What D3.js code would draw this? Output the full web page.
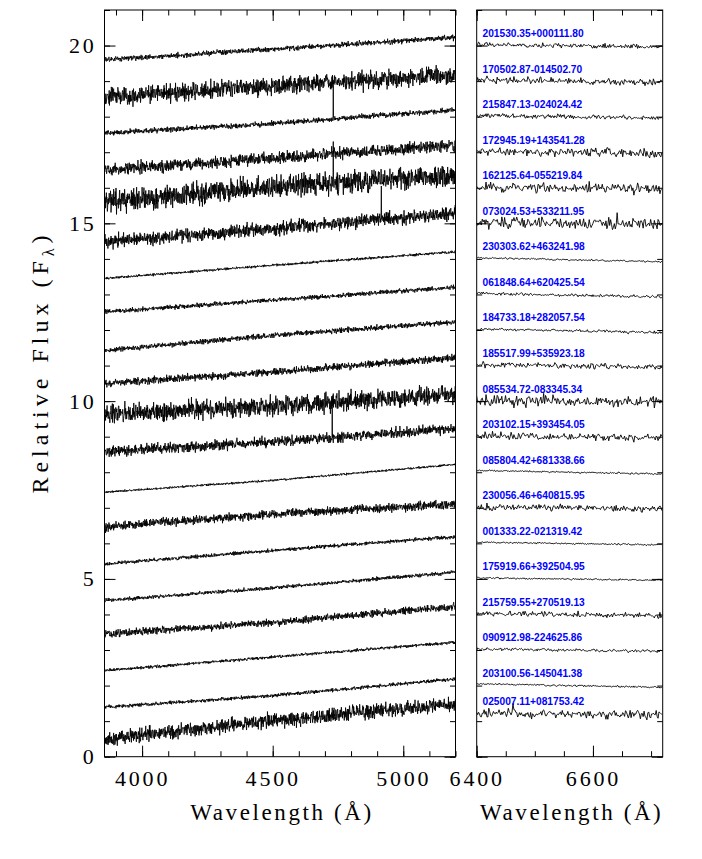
<!DOCTYPE html>
<html>
<head>
<meta charset="utf-8">
<script src="https://cdn.jsdelivr.net/npm/d3@7/dist/d3.min.js"></script>
<style>
  body { margin: 0; background: #fff; }
  svg { display: block; }
</style>
</head>
<body>
<svg id="chart" width="702" height="859"></svg>
<script>
// ---------------- data ----------------
const starNames = [
  "201530.35+000111.80", "170502.87-014502.70", "215847.13-024024.42",
  "172945.19+143541.28", "162125.64-055219.84", "073024.53+533211.95",
  "230303.62+463241.98", "061848.64+620425.54", "184733.18+282057.54",
  "185517.99+535923.18", "085534.72-083345.34", "203102.15+393454.05",
  "085804.42+681338.66", "230056.46+640815.95", "001333.22-021319.42",
  "175919.66+392504.95", "215759.55+270519.13", "090912.98-224625.86",
  "203100.56-145041.38", "025007.11+081753.42"
];
// blue-region continuum (relative flux incl. offset) at 3856, 4500, 5200 Å
const leftAnchorsWave = [3856, 4500, 5200];
const leftStart = [19.60, 18.56, 17.53, 16.50, 15.60, 14.48, 13.45, 12.51, 11.43, 10.49,
                   9.65, 8.57, 7.44, 6.46, 5.42, 4.39, 3.45, 2.42, 1.39, 0.50];
const leftMid   = [19.90, 18.86, 17.81, 16.83, 16.03, 14.86, 13.82, 12.84, 11.85, 10.82,
                   9.85, 8.85, 7.77, 6.83, 5.80, 4.75, 3.78, 2.80, 1.72, 1.01];
const leftEnd   = [20.23, 19.17, 18.19, 17.20, 16.36, 15.28, 14.20, 13.20, 12.23, 11.22,
                   10.21, 9.23, 8.22, 7.11, 6.19, 5.19, 4.22, 3.22, 2.19, 1.48];
// per-pixel noise level (flux units) seen in each blue spectrum
const leftNoise = [0.035, 0.12, 0.035, 0.08, 0.15, 0.09, 0.018, 0.03, 0.035, 0.05,
                   0.13, 0.07, 0.015, 0.06, 0.025, 0.025, 0.05, 0.02, 0.025, 0.10];
// narrow spikes in the blue panel: star index, wavelength, peak value
const leftSpikeStar  = [2, 4, 5, 11];
const leftSpikeWave  = [4732, 4732, 4916, 4728];
const leftSpikeValue = [18.90, 17.30, 16.05, 10.05];

// red-region (H-alpha) spectra: levels at 6400 and 6720 Å
const rightStart = [20.03, 19.03, 18.03, 17.03, 16.03, 15.03, 14.03, 13.03, 12.03, 11.03,
                    10.03, 9.03, 8.05, 7.03, 6.03, 5.03, 4.03, 3.03, 2.05, 1.22];
const rightEnd   = [19.96, 18.97, 17.96, 16.97, 15.97, 14.97, 13.92, 12.93, 11.93, 10.95,
                    9.97, 8.97, 7.95, 6.97, 5.96, 4.96, 3.97, 2.96, 1.95, 1.17];
const rightNoise = [0.03, 0.05, 0.03, 0.06, 0.07, 0.08, 0.012, 0.02, 0.02, 0.04,
                    0.08, 0.05, 0.012, 0.05, 0.012, 0.012, 0.04, 0.02, 0.012, 0.06];
const rightLabelLevel = [20.24, 19.24, 18.24, 17.24, 16.24, 15.24, 14.24, 13.24, 12.24, 11.24,
                         10.24, 9.24, 8.24, 7.24, 6.24, 5.24, 4.24, 3.24, 2.24, 1.46];
const rightSpikeStar  = [5, 19];
const rightSpikeWave  = [6641, 6462];
const rightSpikeValue = [15.30, 1.50];

// axes
const leftMajorTicks = [4000, 4500, 5000];
const leftMinorTicks = d3.range(3900, 5201, 100);
const rightMajorTicks = [6400, 6600];
const rightMinorTicks = d3.range(6400, 6721, 50);
const yMajorTicks = [0, 5, 10, 15, 20];
const yMinorTicks = d3.range(0, 22, 1);

// ---------------- layout ----------------
const svg = d3.select("#chart");
const plotTop = 10, plotBottom = 756.7;
const y = d3.scaleLinear().domain([0, 21]).range([plotBottom, plotTop]);
const xL = d3.scaleLinear().domain([3856, 5200]).range([104.5, 455.5]);
const xR = d3.scaleLinear().domain([6400, 6720]).range([476.7, 662.7]);

// deterministic pixel-noise texture (amplitude from the picture)
function hash(a, b) {
  const s = Math.sin(a * 12.9898 + b * 78.233) * 43758.5453;
  return s - Math.floor(s);
}
function gauss(a, b) {
  return (hash(a, b) + hash(a + 0.37, b + 1.91) + hash(a + 0.73, b + 2.57) - 1.5) * 2;
}

function buildLeft(i) {
  const cont = d3.scaleLinear().domain(leftAnchorsWave).range([leftStart[i], leftMid[i], leftEnd[i]]);
  const pts = [];
  for (let w = 3856; w <= 5200; w += 1) {
    pts.push([w, cont(w) + leftNoise[i] * gauss(w, i + 1)]);
  }
  leftSpikeStar.forEach((s, k) => {
    if (s === i) {
      const j = Math.round(leftSpikeWave[k] - 3856);
      pts[j][1] = leftSpikeValue[k];
    }
  });
  return pts;
}
function buildRight(i) {
  const cont = d3.scaleLinear().domain([6400, 6720]).range([rightStart[i], rightEnd[i]]);
  const pts = [];
  for (let w = 6400; w <= 6720; w += 1.6) {
    pts.push([w, cont(w) + rightNoise[i] * gauss(w * 3.1, i + 101)]);
  }
  rightSpikeStar.forEach((s, k) => {
    if (s === i) {
      let best = 0;
      pts.forEach((p, j) => { if (Math.abs(p[0] - rightSpikeWave[k]) < Math.abs(pts[best][0] - rightSpikeWave[k])) best = j; });
      pts[best][1] = rightSpikeValue[k];
    }
  });
  return pts;
}

const defs = svg.append("defs");
defs.append("clipPath").attr("id", "clipL").append("rect")
  .attr("x", xL.range()[0]).attr("y", plotTop).attr("width", xL.range()[1] - xL.range()[0]).attr("height", plotBottom - plotTop);
defs.append("clipPath").attr("id", "clipR").append("rect")
  .attr("x", xR.range()[0]).attr("y", plotTop).attr("width", xR.range()[1] - xR.range()[0]).attr("height", plotBottom - plotTop);

const lineL = d3.line().x(d => xL(d[0])).y(d => y(d[1]));
const lineR = d3.line().x(d => xR(d[0])).y(d => y(d[1]));

const gL = svg.append("g").attr("clip-path", "url(#clipL)");
starNames.forEach((n, i) => {
  gL.append("path").attr("d", lineL(buildLeft(i)))
    .attr("fill", "none").attr("stroke", "#000").attr("stroke-width", 0.85);
});
const gR = svg.append("g").attr("clip-path", "url(#clipR)");
starNames.forEach((n, i) => {
  gR.append("path").attr("d", lineR(buildRight(i)))
    .attr("fill", "none").attr("stroke", "#000").attr("stroke-width", 0.9);
});

// star labels
svg.append("g").selectAll("text").data(starNames).join("text")
  .attr("x", xR(6410)).attr("y", (d, i) => y(rightLabelLevel[i]))
  .attr("fill", "#0000ff")
  .attr("font-family", "'Liberation Sans', Arial, sans-serif")
  .attr("font-size", 10.2)
  .attr("font-weight", "bold")
  .text(d => d);

// ---------------- axes ----------------
const tickFont = "'Liberation Serif', 'Times New Roman', serif";
function frame(x) {
  const [x0, x1] = x.range();
  svg.append("rect").attr("x", x0).attr("y", plotTop).attr("width", x1 - x0).attr("height", plotBottom - plotTop)
    .attr("fill", "none").attr("stroke", "#000").attr("stroke-width", 1);
}
function styleAxis(g) {
  g.select(".domain").remove();
  g.selectAll("line").attr("stroke", "#000").attr("stroke-width", 1);
  g.selectAll("text").attr("font-family", tickFont).attr("font-size", 22)
    .attr("letter-spacing", 2.8).attr("fill", "#000");
}
function panelAxes(x, major, minor, yLabels) {
  const [x0, x1] = x.range();
  svg.append("g").attr("transform", `translate(0,${plotBottom})`)
    .call(d3.axisBottom(x).tickValues(minor).tickSize(-5.5).tickFormat("")).call(styleAxis);
  svg.append("g").attr("transform", `translate(0,${plotBottom})`)
    .call(d3.axisBottom(x).tickValues(major).tickSize(-11).tickPadding(14).tickFormat(d3.format("d"))).call(styleAxis);
  svg.append("g").attr("transform", `translate(0,${plotTop})`)
    .call(d3.axisTop(x).tickValues(minor).tickSize(-5.5).tickFormat("")).call(styleAxis);
  svg.append("g").attr("transform", `translate(0,${plotTop})`)
    .call(d3.axisTop(x).tickValues(major).tickSize(-11).tickFormat("")).call(styleAxis);
  svg.append("g").attr("transform", `translate(${x0},0)`)
    .call(d3.axisLeft(y).tickValues(yMinorTicks.filter(v => v <= 21)).tickSize(-5.5).tickFormat("")).call(styleAxis);
  svg.append("g").attr("transform", `translate(${x0},0)`)
    .call(d3.axisLeft(y).tickValues(yMajorTicks).tickSize(-11).tickPadding(8)
      .tickFormat(yLabels ? d3.format("d") : "")).call(styleAxis);
  svg.append("g").attr("transform", `translate(${x1},0)`)
    .call(d3.axisRight(y).tickValues(yMinorTicks.filter(v => v <= 21)).tickSize(-5.5).tickFormat("")).call(styleAxis);
  svg.append("g").attr("transform", `translate(${x1},0)`)
    .call(d3.axisRight(y).tickValues(yMajorTicks).tickSize(-11).tickFormat("")).call(styleAxis);
  frame(x);
}
panelAxes(xL, leftMajorTicks, leftMinorTicks, true);
panelAxes(xR, rightMajorTicks, rightMinorTicks, false);

// titles
function xTitle(cx) {
  svg.append("text").attr("x", cx).attr("y", 820).attr("text-anchor", "middle")
    .attr("font-family", tickFont).attr("font-size", 23).attr("letter-spacing", 2.6)
    .text("Wavelength (Å)");
}
xTitle((xL.range()[0] + xL.range()[1]) / 2 + 2);
xTitle((xR.range()[0] + xR.range()[1]) / 2 + 2);

const yt = svg.append("text")
  .attr("transform", "translate(48,362) rotate(-90)")
  .attr("text-anchor", "middle")
  .attr("font-family", tickFont).attr("font-size", 24).attr("letter-spacing", 5);
yt.append("tspan").text("Relative Flux (F");
yt.append("tspan").attr("font-size", 16).attr("dy", "0.35em").text("λ");
yt.append("tspan").attr("dy", "-0.25em").text(")");
</script>
</body>
</html>
